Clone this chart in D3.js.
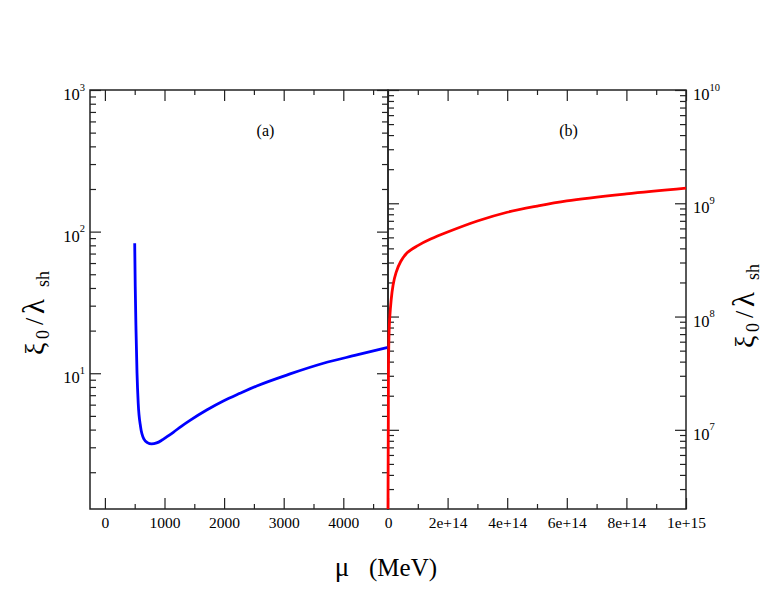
<!DOCTYPE html>
<html>
<head>
<meta charset="utf-8">
<script src="https://cdnjs.cloudflare.com/ajax/libs/d3/7.8.5/d3.min.js"></script>
<style>
  body { margin: 0; background: #fff; }
  svg text { font-family: "Liberation Serif", "Times New Roman", serif; fill: #000; }
</style>
</head>
<body>
<svg width="776" height="599"></svg>
<script>
// panel (a): low mu
const blueMu = [500, 509, 522, 539, 559, 598, 656, 712, 783, 868, 952, 1036, 1148, 1288, 1428, 1708, 1987, 2267, 2547, 3107, 3667, 4226, 4750];
const blueXi = [82.8, 40.9, 20.2, 10, 6.14, 4.2, 3.42, 3.24, 3.17, 3.22, 3.36, 3.55, 3.83, 4.24, 4.65, 5.5, 6.37, 7.22, 8.13, 9.89, 11.76, 13.46, 15.25];

// panel (b): huge mu
const redMu = [0, 1.1e12, 2.2e12, 5.6e12, 1.68e13, 2.7e13, 4.26e13, 6.5e13, 1e14, 1.43e14, 2e14, 3e14, 4e14, 5e14, 6e14, 8e14, 1e15];
const redXi = [2e6, 1.26e7, 4.81e7, 9.6e7, 1.88e8, 2.44e8, 3.06e8, 3.67e8, 4.23e8, 4.83e8, 5.57e8, 6.97e8, 8.33e8, 9.45e8, 1.05e9, 1.21e9, 1.36e9];

const xTicksA = [0, 1000, 2000, 3000, 4000];
const xMinorA = [500, 1500, 2500, 3500, 4500];
const xTicksB = [0, 2e14, 4e14, 6e14, 8e14, 1e15];
const xLabelsB = ["0", "2e+14", "4e+14", "6e+14", "8e+14", "1e+15"];
const xMinorB = [1e14, 3e14, 5e14, 7e14, 9e14];
const yTicksA = [10, 100, 1000];
const yTicksB = [1e7, 1e8, 1e9, 1e10];

const svg = d3.select("svg");
const L = 90, M = 388, R = 686, T = 90, B = 509;

const xA = d3.scaleLinear().domain([-250, 4750]).range([L, M]);
const xB = d3.scaleLinear().domain([0, 1e15]).range([M, R]);
const yA = d3.scaleLog().domain([1.1, 1000]).range([B, T]);
const yB = d3.scaleLog().domain([2e6, 1e10]).range([B, T]);

// minor ticks 2..9 of every decade inside the domain
const logMinor = (scale) => {
  const [lo, hi] = scale.domain();
  const out = [];
  for (let e = Math.floor(Math.log10(lo)); e < Math.ceil(Math.log10(hi)); e++) {
    for (let m = 2; m <= 9; m++) {
      const v = m * Math.pow(10, e);
      if (v > lo && v < hi) out.push(v);
    }
  }
  return out;
};

const axes = svg.append("g").attr("color", "#222");

const tickAxis = (axisFn, scale, values, size, tx, ty) => {
  return axes.append("g")
    .attr("transform", `translate(${tx},${ty})`)
    .call(axisFn(scale).tickValues(values).tickSize(-size).tickFormat(""))
    .call(g => g.select(".domain").remove())
    .call(g => g.selectAll("line").attr("stroke-width", 1.2));
};

// x axes, bottom with labels
tickAxis(d3.axisBottom, xA, xMinorA, 5, 0, B);
tickAxis(d3.axisBottom, xB, xMinorB, 5, 0, B);
tickAxis(d3.axisTop, xA, xMinorA, 5, 0, T);
tickAxis(d3.axisTop, xB, xMinorB, 5, 0, T);
tickAxis(d3.axisTop, xA, xTicksA, 11, 0, T);
tickAxis(d3.axisTop, xB, xTicksB, 11, 0, T);

const bottomA = tickAxis(d3.axisBottom, xA, xTicksA, 11, 0, B);
bottomA.selectAll(".tick text").text(d => d);
const bottomB = tickAxis(d3.axisBottom, xB, xTicksB, 11, 0, B);
bottomB.selectAll(".tick text").text((d, i) => xLabelsB[i]);
[bottomA, bottomB].forEach(g => {
  g.attr("font-family", null).attr("font-size", null);
  g.selectAll(".tick text").attr("y", 8).attr("font-size", 15.5);
});

// y axes: minor ticks on every vertical edge
tickAxis(d3.axisLeft, yA, logMinor(yA), 6, L, 0);
tickAxis(d3.axisRight, yA, logMinor(yA), 6, M, 0);
tickAxis(d3.axisLeft, yB, logMinor(yB), 6, M, 0);
tickAxis(d3.axisRight, yB, logMinor(yB), 6, R, 0);
tickAxis(d3.axisRight, yA, yTicksA, 11, M, 0);
tickAxis(d3.axisLeft, yB, yTicksB, 11, M, 0);

const powerLabels = (g, pad) => {
  g.attr("font-family", null).attr("font-size", null);
  g.selectAll(".tick text").each(function(d) {
    const t = d3.select(this).attr("dy", null).attr("y", 9.5).attr("x", pad).attr("font-size", 16.5);
    t.append("tspan").text("10");
    t.append("tspan").attr("dy", -9.5).attr("font-size", 10.5).text(Math.round(Math.log10(d)));
  });
};
powerLabels(tickAxis(d3.axisLeft, yA, yTicksA, 11, L, 0), -5);
powerLabels(tickAxis(d3.axisRight, yB, yTicksB, 11, R, 0), 7);

// frames
[[L, M], [M, R]].forEach(([a, b]) => {
  axes.append("rect")
    .attr("x", a).attr("y", T).attr("width", b - a).attr("height", B - T)
    .attr("fill", "none").attr("stroke", "#222").attr("stroke-width", 1.5);
});

// curves
const lineA = d3.line().x((d, i) => xA(blueMu[i])).y(d => yA(d)).curve(d3.curveMonotoneX);
const lineB = d3.line().x((d, i) => xB(redMu[i])).y(d => yB(d)).curve(d3.curveCatmullRom.alpha(0.5));

svg.append("path").attr("d", lineA(blueXi))
  .attr("fill", "none").attr("stroke", "#0000ff").attr("stroke-width", 2.8);
svg.append("path").attr("d", lineB(redXi))
  .attr("fill", "none").attr("stroke", "#ff0000").attr("stroke-width", 2.8);

// panel tags
svg.append("text").attr("x", 265.5).attr("y", 136).attr("text-anchor", "middle").attr("font-size", 16).text("(a)");
svg.append("text").attr("x", 568.5).attr("y", 136).attr("text-anchor", "middle").attr("font-size", 16).text("(b)");

// y titles, rotated
const yTitle = (tx, ty) => {
  const g = svg.append("g").attr("transform", `translate(${tx},${ty}) rotate(-90)`);
  const greek = "'DejaVu Serif', serif";
  g.append("text").attr("x", 0).attr("y", 0).attr("font-size", 28).attr("font-family", greek).text("ξ");
  g.append("text").attr("x", 16).attr("y", 5).attr("font-size", 18).text("0");
  g.append("text").attr("x", 30).attr("y", -1).attr("font-size", 26).text("/");
  g.append("text").attr("x", 41).attr("y", 0).attr("font-size", 31).attr("font-family", greek).text("λ");
  g.append("text").attr("x", 68).attr("y", 5).attr("font-size", 18).text("sh");
};
yTitle(44, 355);
yTitle(754, 348);

// x title
svg.append("text").attr("x", 342).attr("y", 576).attr("text-anchor", "middle").attr("font-size", 27).text("μ");
svg.append("text").attr("x", 369).attr("y", 576).attr("font-size", 25).text("(MeV)");
</script>
</body>
</html>
